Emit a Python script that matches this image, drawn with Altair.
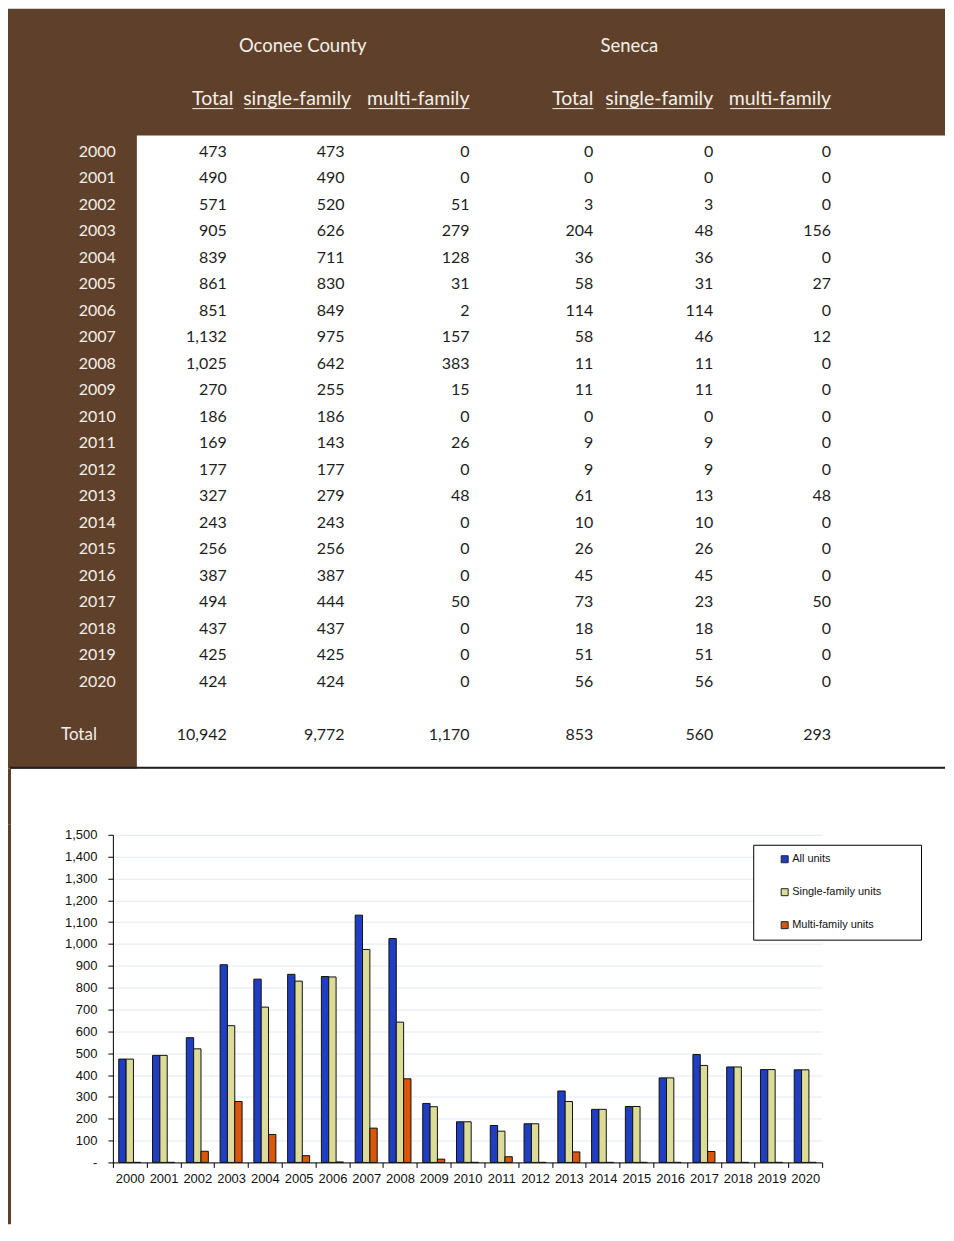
import altair as alt
import pandas as pd

# ---------------- data ----------------
years = list(range(2000, 2021))
oc_total = [473, 490, 571, 905, 839, 861, 851, 1132, 1025, 270, 186, 169, 177, 327, 243, 256, 387, 494, 437, 425, 424]
oc_single = [473, 490, 520, 626, 711, 830, 849, 975, 642, 255, 186, 143, 177, 279, 243, 256, 387, 444, 437, 425, 424]
oc_multi = [0, 0, 51, 279, 128, 31, 2, 157, 383, 15, 0, 26, 0, 48, 0, 0, 0, 50, 0, 0, 0]
se_total = [0, 0, 3, 204, 36, 58, 114, 58, 11, 11, 0, 9, 9, 61, 10, 26, 45, 73, 18, 51, 56]
se_single = [0, 0, 3, 48, 36, 31, 114, 46, 11, 11, 0, 9, 9, 13, 10, 26, 45, 23, 18, 51, 56]
se_multi = [0, 0, 0, 156, 0, 27, 0, 12, 0, 0, 0, 0, 0, 48, 0, 0, 0, 50, 0, 0, 0]
totals = [10942, 9772, 1170, 853, 560, 293]

group_titles = ["Oconee County", "Seneca"]
sub_headers = ["Total", "single-family", "multi-family", "Total", "single-family", "multi-family"]
series_names = ["All units", "Single-family units", "Multi-family units"]

# ---------------- styles ----------------
BROWN = "#5f412b"
LIGHT = "#f3efe9"
DARK = "#1e1e1e"
TFONT = "Lato"
CFONT = "Liberation Sans"
BAR_COLORS = ["#1f3ec2", "#dcdc98", "#d9560c"]

# both panels share the same left overhang (105px) and top overhang (10px)
LEFT = 105
TOP = 10
A_W, A_H = 833, 807
col_x = [3, 114, 232, 357, 481, 601, 719]
row_keys = ["title", "g1", "sub", "g2"] + [str(y) for y in years] + ["g3", "Total"]

xs = alt.X("ci:Q", scale=alt.Scale(domain=list(range(7)), range=col_x), axis=None)
ys = alt.Y("row:N", scale=alt.Scale(type="point", domain=row_keys, range=[27, 717], padding=0), axis=None)

series_cols = [oc_total, oc_single, oc_multi, se_total, se_single, se_multi]
cell_rows = []
for i, y in enumerate(years):
    for k, s in enumerate(series_cols):
        cell_rows.append({"row": str(y), "ci": k + 1, "txt": f"{s[i]:,}"})
for k, t in enumerate(totals):
    cell_rows.append({"row": "Total", "ci": k + 1, "txt": f"{t:,}"})
cells = pd.DataFrame(cell_rows)
year_df = pd.DataFrame({"row": [str(y) for y in years], "ci": 0, "txt": [str(y) for y in years]})
one = pd.DataFrame({"k": [0]})

bg = alt.Chart(one).mark_rect(color=BROWN, strokeWidth=0).encode(
    x=alt.value(-LEFT), x2=alt.value(A_W), y=alt.value(-TOP), y2=alt.value(751))
white = alt.Chart(one).mark_rect(color="white", strokeWidth=0).encode(
    x=alt.value(24), x2=alt.value(A_W), y=alt.value(117), y2=alt.value(751))
bottom_line = alt.Chart(one).mark_rule(color="#202020", strokeWidth=2).encode(
    x=alt.value(-LEFT + 2), x2=alt.value(A_W), y=alt.value(750))
strip_a = alt.Chart(one).mark_rect(color=BROWN, strokeWidth=0).encode(
    x=alt.value(-LEFT), x2=alt.value(-LEFT + 3), y=alt.value(751), y2=alt.value(A_H))

cell_txt = alt.Chart(cells).mark_text(align="right", baseline="middle", font=TFONT, fontSize=16, color=DARK).encode(
    x=xs, y=ys, text="txt:N")
year_txt = alt.Chart(year_df).mark_text(align="right", baseline="middle", font=TFONT, fontSize=16, color=LIGHT).encode(
    x=xs, y=ys, text="txt:N")
total_lbl = alt.Chart(pd.DataFrame({"row": ["Total"], "ci": [0], "txt": ["Total"]})).mark_text(
    align="right", baseline="middle", font=TFONT, fontSize=17, color=LIGHT, dx=-19).encode(x=xs, y=ys, text="txt:N")
t1 = alt.Chart(pd.DataFrame({"row": ["title"], "ci": [2], "txt": [group_titles[0]]})).mark_text(
    align="center", baseline="middle", font=TFONT, fontSize=18.5, color=LIGHT, dx=-42).encode(x=xs, y=ys, text="txt:N")
t2 = alt.Chart(pd.DataFrame({"row": ["title"], "ci": [5], "txt": [group_titles[1]]})).mark_text(
    align="center", baseline="middle", font=TFONT, fontSize=18.5, color=LIGHT, dx=-84).encode(x=xs, y=ys, text="txt:N")

# sub headers with their underlines (first two Oconee headers sit a little right of their column)
ul_w = [41, 107, 101, 41, 107, 101]
hdr_dx = [6.5, 6.5, 0, 0, 0, 0]
sub_layers = []
for k in range(6):
    d = pd.DataFrame({"row": ["sub"], "ci": [k + 1], "txt": [sub_headers[k]]})
    sub_layers.append(
        alt.Chart(d).mark_text(align="right", baseline="middle", font=TFONT, fontSize=19.5, color=LIGHT,
                               dx=hdr_dx[k]).encode(x=xs, y=ys, text="txt:N"))
    sub_layers.append(
        alt.Chart(d).mark_rule(color=LIGHT, strokeWidth=1, xOffset=-ul_w[k] + hdr_dx[k], x2Offset=hdr_dx[k],
                               yOffset=10, y2Offset=10).encode(x=xs, x2=alt.X2("ci:Q"), y=ys))

panel_a = alt.layer(bg, white, bottom_line, strip_a, cell_txt, year_txt, total_lbl, t1, t2,
                    *sub_layers).properties(width=A_W, height=A_H)

# ---------------- bar chart ----------------
bar_rows = []
for i, y in enumerate(years):
    for name, s in zip(series_names, [oc_total, oc_single, oc_multi]):
        bar_rows.append({"year": str(y), "series": name, "value": s[i]})
bars_df = pd.DataFrame(bar_rows)

pad_lbl = "datum.label + '" + "\u00a0" * 10 + "\u200b'"

bars = alt.Chart(bars_df).mark_bar(stroke="#111", strokeWidth=1).encode(
    x=alt.X("year:O", scale=alt.Scale(paddingInner=0, paddingOuter=0),
            axis=alt.Axis(title=None, labelAngle=0, tickBand="extent", labelFont=CFONT, labelFontSize=13,
                          labelColor="#111", domainColor="#000", tickColor="#000", tickSize=5,
                          labelPadding=5, grid=False)),
    xOffset=alt.XOffset("series:N", sort=series_names, scale=alt.Scale(paddingOuter=0.8, paddingInner=0)),
    y=alt.Y("value:Q", scale=alt.Scale(domain=[0, 1500], nice=False),
            axis=alt.Axis(title=None, values=list(range(0, 1501, 100)),
                          labelExpr="datum.value == 0 ? '-' : format(datum.value, ',')",
                          labelFont=CFONT, labelFontSize=13, labelColor="#111",
                          gridColor="#e3e9f0", domainColor="#000", tickColor="#000", tickSize=5,
                          labelPadding=11)),
    color=alt.Color("series:N", sort=series_names,
                    scale=alt.Scale(domain=series_names, range=BAR_COLORS),
                    legend=alt.Legend(title=None, orient="none", legendX=641, legendY=10,
                                      strokeColor="#000", fillColor="white", padding=9,
                                      symbolType="square", symbolSize=49, symbolStrokeColor="#222",
                                      symbolStrokeWidth=1, symbolOffset=17, labelOffset=2,
                                      rowPadding=21, labelFont=CFONT, labelFontSize=11,
                                      labelColor="#111", labelExpr=pad_lbl)),
)

strip_b = alt.Chart(one).mark_rect(color=BROWN, strokeWidth=0).encode(
    x=alt.value(-LEFT), x2=alt.value(-LEFT + 3), y=alt.value(-TOP), y2=alt.value(390))

panel_b = alt.layer(strip_b, bars).properties(width=710, height=328)

chart = alt.vconcat(panel_a, panel_b, spacing=0).resolve_legend(color="independent").configure_view(
    stroke=None).properties(padding=0, background="white")

chart.save("out.html", embed_options={"renderer": "svg", "actions": False})
